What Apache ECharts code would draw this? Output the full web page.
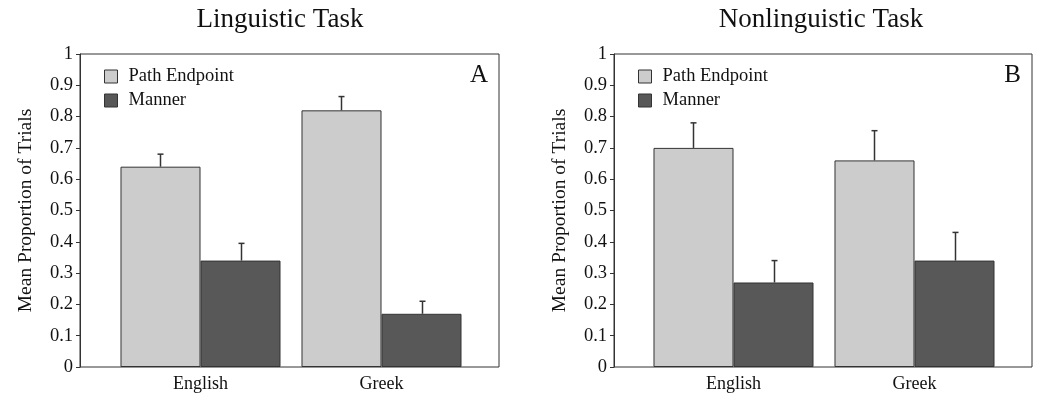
<!DOCTYPE html>
<html>
<head>
<meta charset="utf-8">
<script src="https://cdn.jsdelivr.net/npm/echarts@6/dist/echarts.min.js"></script>
<style>html,body{margin:0;padding:0;background:#fff}#c{width:1050px;height:408px}</style>
</head>
<body>
<div id="c"></div>
<script>
// ---- data ----
const categories = ['English', 'Greek'];
const seriesNames = ['Path Endpoint', 'Manner'];
const panelTitles = ['Linguistic Task', 'Nonlinguistic Task'];
const panelLetters = ['A', 'B'];
const yTicks = [0, 0.1, 0.2, 0.3, 0.4, 0.5, 0.6, 0.7, 0.8, 0.9, 1];
const yAxisName = 'Mean Proportion of Trials';

const linguisticPath = [0.64, 0.82];
const linguisticPathErr = [0.04, 0.044];
const linguisticManner = [0.34, 0.17];
const linguisticMannerErr = [0.055, 0.04];

const nonlinguisticPath = [0.70, 0.66];
const nonlinguisticPathErr = [0.08, 0.095];
const nonlinguisticManner = [0.27, 0.34];
const nonlinguisticMannerErr = [0.07, 0.09];

// ---- styling / layout ----
const FONT = '"Liberation Serif", "DejaVu Serif", serif';
const COLORS = ['#cccccc', '#585858'];
const EDGE = '#333333';
const GAP = 0.116;
const frames = [{left: 80, width: 419}, {left: 614, width: 418}];
const inners = [{left: 110, width: 362}, {left: 643, width: 362}];
const titleCenters = [280, 821];
const TOP = 54, HEIGHT = 313;

const panels = [
  {path: linguisticPath, pathErr: linguisticPathErr, manner: linguisticManner, mannerErr: linguisticMannerErr},
  {path: nonlinguisticPath, pathErr: nonlinguisticPathErr, manner: nonlinguisticManner, mannerErr: nonlinguisticMannerErr}
];

const grid = [], xAxis = [], yAxis = [], series = [], title = [], legend = [];

function errRender(sign) {
  return function (params, api) {
    const cat = api.value(0), v = api.value(1), e = api.value(2);
    const band = api.size([1, 0])[0];
    const bw = band * (1 - GAP) / 2;
    const p0 = api.coord([cat, v]);
    const p1 = api.coord([cat, e]);
    const x = Math.round(p0[0] + sign * bw / 2) + 0.5;
    const st = {stroke: EDGE, lineWidth: 1.5};
    return {type: 'group', children: [
      {type: 'line', shape: {x1: x, y1: p0[1], x2: x, y2: p1[1]}, style: st},
      {type: 'line', shape: {x1: x - 3, y1: p1[1], x2: x + 3, y2: p1[1]}, style: st}
    ]};
  };
}

panels.forEach((p, i) => {
  const gFrame = i * 2, gInner = i * 2 + 1;
  grid.push({left: frames[i].left, top: TOP, width: frames[i].width, height: HEIGHT,
    show: true, borderColor: EDGE, borderWidth: 1, backgroundColor: 'transparent', containLabel: false});
  grid.push({left: inners[i].left, top: TOP, width: inners[i].width, height: HEIGHT, containLabel: false});

  xAxis.push({gridIndex: gFrame, type: 'value', min: 0, max: 1, show: false});
  xAxis.push({gridIndex: gInner, type: 'category', data: categories,
    axisLine: {show: false}, axisTick: {show: false},
    axisLabel: {fontFamily: FONT, fontSize: 18, color: '#111', margin: 8}});

  yAxis.push({gridIndex: gFrame, type: 'value', min: 0, max: 1, interval: 0.1,
    name: yAxisName, nameLocation: 'middle', nameGap: 44, nameRotate: 90,
    nameTextStyle: {fontFamily: FONT, fontSize: 19.5, color: '#111'},
    axisLine: {show: true, lineStyle: {color: EDGE, width: 1}},
    axisTick: {show: true, inside: false, length: 4, lineStyle: {color: EDGE}},
    axisLabel: {fontFamily: FONT, fontSize: 18.5, color: '#111', margin: 7,
      formatter: v => String(yTicks.find(t => Math.abs(t - v) < 1e-9) ?? v)},
    splitLine: {show: false}});
  yAxis.push({gridIndex: gInner, type: 'value', min: 0, max: 1, show: false, splitLine: {show: false}});

  const xi = gInner, yi = gInner;
  series.push({name: seriesNames[0], type: 'bar', xAxisIndex: xi, yAxisIndex: yi, data: p.path,
    barGap: '0%', barCategoryGap: (GAP * 100) + '%',
    itemStyle: {color: COLORS[0], borderColor: EDGE, borderWidth: 1}, silent: true});
  series.push({name: seriesNames[1], type: 'bar', xAxisIndex: xi, yAxisIndex: yi, data: p.manner,
    barGap: '0%', barCategoryGap: (GAP * 100) + '%',
    itemStyle: {color: COLORS[1], borderColor: EDGE, borderWidth: 1}, silent: true});
  series.push({name: 'errPath' + i, type: 'custom', xAxisIndex: xi, yAxisIndex: yi, z: 5, silent: true,
    renderItem: errRender(-1),
    data: categories.map((c, k) => [k, p.path[k], p.path[k] + p.pathErr[k]])});
  series.push({name: 'errManner' + i, type: 'custom', xAxisIndex: xi, yAxisIndex: yi, z: 5, silent: true,
    renderItem: errRender(1),
    data: categories.map((c, k) => [k, p.manner[k], p.manner[k] + p.mannerErr[k]])});

  title.push({text: panelTitles[i], left: titleCenters[i], top: 6, padding: 0,
    textAlign: 'center', textStyle: {fontFamily: FONT, fontSize: 27, fontWeight: 'normal', color: '#111'}});
  title.push({text: panelLetters[i], left: frames[i].left + frames[i].width - 11, top: 63, padding: 0,
    textAlign: 'right', textStyle: {fontFamily: FONT, fontSize: 25, fontWeight: 'normal', color: '#111'}});

  legend.push({data: seriesNames, orient: 'vertical', left: frames[i].left + 24, top: 67, padding: 0,
    icon: 'rect', itemWidth: 13, itemHeight: 13, itemGap: 5, selectedMode: false,
    itemStyle: {borderColor: EDGE, borderWidth: 1},
    textStyle: {fontFamily: FONT, fontSize: 18.5, color: '#111', padding: [0, 0, 0, 6]}});
});

const chart = echarts.init(document.getElementById('c'), null, {renderer: 'canvas'});
chart.setOption({animation: false, backgroundColor: '#fff', title, legend, grid, xAxis, yAxis, series});
</script>
</body>
</html>
